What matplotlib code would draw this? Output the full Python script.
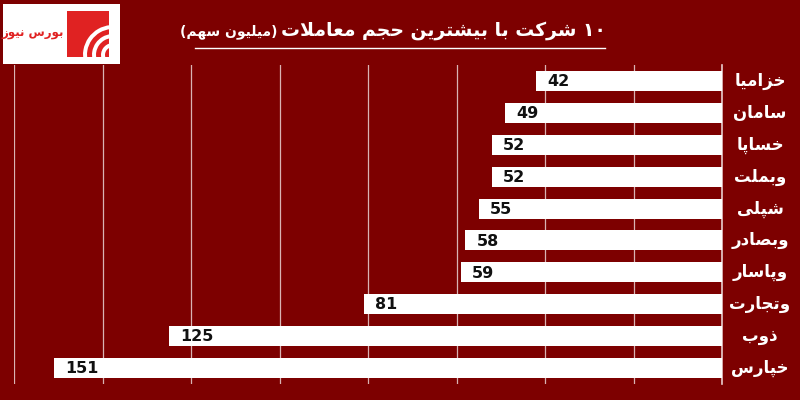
import matplotlib
matplotlib.use('Agg')
import matplotlib.pyplot as plt
from matplotlib.patches import Rectangle, Wedge
import matplotlib.transforms as mtransforms

# data (top to bottom)
companies = ['خزامیا', 'سامان', 'خساپا', 'وبملت', 'شپلی',
             'وبصادر', 'وپاسار', 'وتجارت', 'ذوب', 'خپارس']
volumes = [42, 49, 52, 52, 55, 58, 59, 81, 125, 151]
x_ticks = [0, 20, 40, 60, 80, 100, 120, 140, 160]
title_main = '۱۰ شرکت با بیشترین حجم معاملات'
title_unit = '(میلیون سهم)'
logo_text = 'بورس نیوز'

BG = '#7d0000'

# minimal arabic shaping: iso, fin, ini, med
FORMS = {
    'ا': ('\uFE8D', '\uFE8E', None, None),
    'ب': ('\uFE8F', '\uFE90', '\uFE91', '\uFE92'),
    'پ': ('\uFB56', '\uFB57', '\uFB58', '\uFB59'),
    'ت': ('\uFE95', '\uFE96', '\uFE97', '\uFE98'),
    'ج': ('\uFE9D', '\uFE9E', '\uFE9F', '\uFEA0'),
    'ح': ('\uFEA1', '\uFEA2', '\uFEA3', '\uFEA4'),
    'خ': ('\uFEA5', '\uFEA6', '\uFEA7', '\uFEA8'),
    'د': ('\uFEA9', '\uFEAA', None, None),
    'ذ': ('\uFEAB', '\uFEAC', None, None),
    'ر': ('\uFEAD', '\uFEAE', None, None),
    'ز': ('\uFEAF', '\uFEB0', None, None),
    'س': ('\uFEB1', '\uFEB2', '\uFEB3', '\uFEB4'),
    'ش': ('\uFEB5', '\uFEB6', '\uFEB7', '\uFEB8'),
    'ص': ('\uFEB9', '\uFEBA', '\uFEBB', '\uFEBC'),
    'ع': ('\uFEC9', '\uFECA', '\uFECB', '\uFECC'),
    'ک': ('\uFB8E', '\uFB8F', '\uFB90', '\uFB91'),
    'ل': ('\uFEDD', '\uFEDE', '\uFEDF', '\uFEE0'),
    'م': ('\uFEE1', '\uFEE2', '\uFEE3', '\uFEE4'),
    'ن': ('\uFEE5', '\uFEE6', '\uFEE7', '\uFEE8'),
    'ه': ('\uFEE9', '\uFEEA', '\uFEEB', '\uFEEC'),
    'و': ('\uFEED', '\uFEEE', None, None),
    'ی': ('\uFBFC', '\uFBFD', '\uFBFE', '\uFBFF'),
    'LA': ('\uFEFB', '\uFEFC', None, None),
}
DIGITS = set('0123456789۰۱۲۳۴۵۶۷۸۹')


def shape(text):
    # merge lam-alef
    chars = []
    i = 0
    while i < len(text):
        if text[i] == 'ل' and i + 1 < len(text) and text[i + 1] == 'ا':
            chars.append('LA')
            i += 2
        else:
            chars.append(text[i])
            i += 1
    out = []
    for i, c in enumerate(chars):
        if c not in FORMS:
            out.append(c)
            continue
        iso, fin, ini, med = FORMS[c]
        prev = chars[i - 1] if i > 0 else None
        nxt = chars[i + 1] if i + 1 < len(chars) else None
        pj = prev in FORMS and FORMS[prev][2] is not None
        nj = nxt in FORMS and ini is not None
        if pj and nj:
            out.append(med)
        elif pj:
            out.append(fin)
        elif nj:
            out.append(ini)
        else:
            out.append(iso)
    # visual order: reverse, keep digit runs LTR, mirror parens
    runs = []
    for ch in out:
        if ch in DIGITS and runs and runs[-1][0] in DIGITS:
            runs[-1] += ch
        else:
            runs.append(ch)
    swap = {'(': ')', ')': '('}
    return ''.join(swap.get(r, r) for r in reversed(runs))


plt.rcParams['font.family'] = ['DejaVu Sans']

fig = plt.figure(figsize=(8, 4), dpi=100, facecolor=BG)
ax = fig.add_axes([14 / 800, 16 / 400, 708 / 800, 319 / 400])
ax.set_facecolor(BG)

ypos = list(range(len(companies)))
ax.barh(ypos, volumes, height=0.63, color='white', zorder=3)
ax.set_xlim(160, 0)
ax.set_ylim(len(companies) - 0.5, -0.5)
ax.set_xticks(x_ticks)
ax.set_yticks([])
ax.tick_params(axis='x', length=0, labelbottom=False)
ax.grid(axis='x', color='#d9b3b3', linewidth=0.9, zorder=1)
for s in ['top', 'bottom', 'left']:
    ax.spines[s].set_visible(False)
ax.spines['right'].set_color('#e8cccc')
ax.spines['right'].set_linewidth(1.2)

for y, v in zip(ypos, volumes):
    ax.annotate(str(v), xy=(v, y), xytext=(8, -0.5), textcoords='offset points',
                ha='left', va='center', fontsize=11.5, fontweight='bold',
                color='#111111', zorder=4)

trans = mtransforms.blended_transform_factory(fig.transFigure, ax.transData)
for y, name in zip(ypos, companies):
    ax.text(760 / 800, y, shape(name), transform=trans, ha='center', va='center',
            fontsize=12, fontweight='bold', color='white')

# title
t1 = fig.text(606 / 800, 1 - 30 / 400, shape(title_main), ha='right', va='center',
              fontsize=13.5, fontweight='bold', color='white')
fig.canvas.draw()
bb = t1.get_window_extent()
fig.text((bb.x0 - 4) / 800, 1 - 32 / 400, shape(title_unit), ha='right', va='center',
         fontsize=10, fontweight='bold', color='white')
fig.add_artist(plt.Line2D([195 / 800, 605 / 800], [1 - 48 / 400, 1 - 48 / 400],
                          color='white', linewidth=1.0, transform=fig.transFigure))

# logo
fig.add_artist(Rectangle((3 / 800, 1 - 64 / 400), 117 / 800, 60 / 400,
                         facecolor='white', edgecolor='none', transform=fig.transFigure,
                         zorder=0))
lax = fig.add_axes([67 / 800, 1 - 57 / 400, 42 / 800, 46 / 400], zorder=5)
lax.set_facecolor('#e02222')
lax.set_xlim(0, 42)
lax.set_ylim(0, 46)
lax.set_xticks([])
lax.set_yticks([])
for s in lax.spines.values():
    s.set_visible(False)
for r in [30, 21, 12]:
    lax.add_patch(Wedge((46, 2), r, 95, 195, width=4, facecolor='white', edgecolor='none'))
fig.text(33 / 800, 1 - 33 / 400, shape(logo_text), ha='center', va='center',
         fontsize=8.5, fontweight='bold', color='#e02222', zorder=6)

fig.savefig('out.png', dpi=100, facecolor=BG)
